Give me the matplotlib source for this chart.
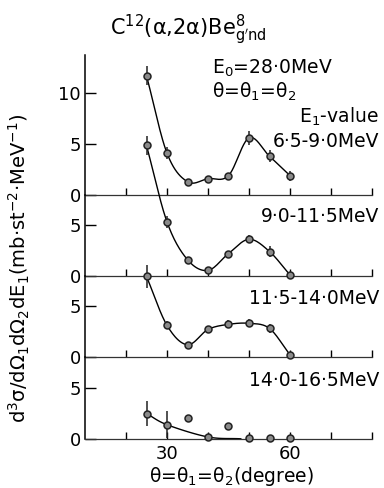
import matplotlib
matplotlib.use("Agg")
import matplotlib.pyplot as plt
import numpy as np

# ---------------------------------------------------------------------------- #
# DATA

angles = [25, 30, 35, 40, 45, 50, 55, 60]

band_labels = ["6·5-9·0MeV", "9·0-11·5MeV", "11·5-14·0MeV", "14·0-16·5MeV"]

sigma_1 = [11.7, 4.1, 1.3, 1.6, 1.9, 5.6, 3.8, 1.9]
sigma_2 = [12.8, 5.3, 1.6, 0.55, 2.2, 3.6, 2.4, 0.1]
sigma_3 = [7.9, 3.1, 1.2, 2.7, 3.2, 3.3, 2.8, 0.2]
sigma_4 = [2.5, 1.4, 2.1, 0.2, 1.25, 0.1, 0.1, 0.05]

err_1 = [0.9, 0.6, 0.3, 0.3, 0.3, 0.7, 0.6, 0.5]
err_2 = [0.9, 0.6, 0.3, 0.2, 0.3, 0.4, 0.5, 0.1]
err_3 = [1.1, 0.4, 0.3, 0.3, 0.4, 0.4, 0.4, 0.1]
err_4 = [1.2, 1.3, 0.2, 0.1, 0.2, 0.1, 0.1, 0.1]

# hand-drawn guide curves (knots through the measured points)
curve_x = [angles, angles, angles, [25, 30, 40, 48]]
curve_y = [sigma_1, sigma_2, sigma_3, [2.5, 1.4, 0.2, 0.02]]

sigmas = [sigma_1, sigma_2, sigma_3, sigma_4]
errors = [err_1, err_2, err_3, err_4]


def smooth(xk, yk, n=24):
    # Catmull-Rom spline through the knots
    xk = np.asarray(xk, float)
    yk = np.asarray(yk, float)
    px = np.concatenate([[2 * xk[0] - xk[1]], xk, [2 * xk[-1] - xk[-2]]])
    py = np.concatenate([[2 * yk[0] - yk[1]], yk, [2 * yk[-1] - yk[-2]]])
    xs, ys = [], []
    t = np.linspace(0, 1, n)
    for i in range(1, len(px) - 2):
        for p, out in ((px, xs), (py, ys)):
            p0, p1, p2, p3 = p[i - 1], p[i], p[i + 1], p[i + 2]
            out.append(0.5 * (2 * p1 + (-p0 + p2) * t
                              + (2 * p0 - 5 * p1 + 4 * p2 - p3) * t ** 2
                              + (-p0 + 3 * p1 - 3 * p2 + p3) * t ** 3))
    return np.concatenate(xs), np.concatenate(ys)


# ---------------------------------------------------------------------------- #
# FIGURE

W, H = 384, 488
fig = plt.figure(figsize=(W / 100, H / 100), dpi=100)

left, right = 85, 372
edges = [55, 195, 276, 357, 439]       # panel borders in pixels (top to bottom)
px_per_unit = 10.2

axes = []
for i in range(4):
    top, bot = edges[i], edges[i + 1]
    ax = fig.add_axes([left / W, 1 - bot / H, (right - left) / W, (bot - top) / H])
    ax.set_xlim(10, 80)
    ax.set_ylim(0, (bot - top) / px_per_unit)
    ax.patch.set_visible(False)
    for s in ("top", "right"):
        ax.spines[s].set_visible(False)
    ax.spines["left"].set_linewidth(1.1)
    ax.spines["bottom"].set_linewidth(0.9)
    ax.spines["bottom"].set_color("#333333")
    ax.set_xticks([20, 30, 40, 50, 60, 70, 80])
    ax.set_xticklabels([])
    ax.set_yticks([0, 5, 10] if i == 0 else [0, 5])
    ax.set_yticklabels(["0", "5", "10"] if i == 0 else ["0", "5"])
    ax.tick_params(axis="x", direction="in", length=5, width=1.0)
    ax.tick_params(axis="y", direction="in", length=8, width=1.0,
                   labelsize=13, pad=3)
    axes.append(ax)

    # guide curve
    cx, cy = smooth(curve_x[i], curve_y[i])
    ax.plot(cx, cy, color="black", lw=1.0, clip_on=False, zorder=2)

    # measured points with error bars
    ax.errorbar(angles, sigmas[i], yerr=errors[i], fmt="o", ms=5,
                mfc="#8a8a8a", mec="#222222", mew=1.1, ecolor="#222222",
                elinewidth=1.1, capsize=0, clip_on=False, zorder=3)

# bottom panel tick labels
axes[3].set_xticklabels(["", "30", "", "", "60", "", ""], fontsize=13)
axes[3].tick_params(axis="x", pad=4)


def ftext(x, y, s, **kw):
    fig.text(x / W, 1 - y / H, s, **kw)


# energy band labels
band_y = [142, 217, 299, 381]
for lab, y in zip(band_labels, band_y):
    ftext(379, y, lab, ha="right", va="center", fontsize=13.5)

ftext(188, 30, "C$^{12}$(α,2α)Be$^{8}_{\\mathrm{g'nd}}$", ha="center",
      va="center", fontsize=15)
ftext(212, 68, "E$_0$=28·0MeV", ha="left", va="center", fontsize=13.5)
ftext(212, 92, "θ=θ$_1$=θ$_2$", ha="left", va="center", fontsize=13.5)
ftext(379, 117, "E$_1$-value", ha="right", va="center", fontsize=13.5)

ftext(232, 476, "θ=θ$_1$=θ$_2$(degree)", ha="center", va="center",
      fontsize=13.5)
ftext(19, 268, "d$^3$σ/dΩ$_1$dΩ$_2$dE$_1$(mb·st$^{-2}$·MeV$^{-1}$)",
      ha="center", va="center", rotation=90, fontsize=14)

fig.savefig("out.png", dpi=100)
